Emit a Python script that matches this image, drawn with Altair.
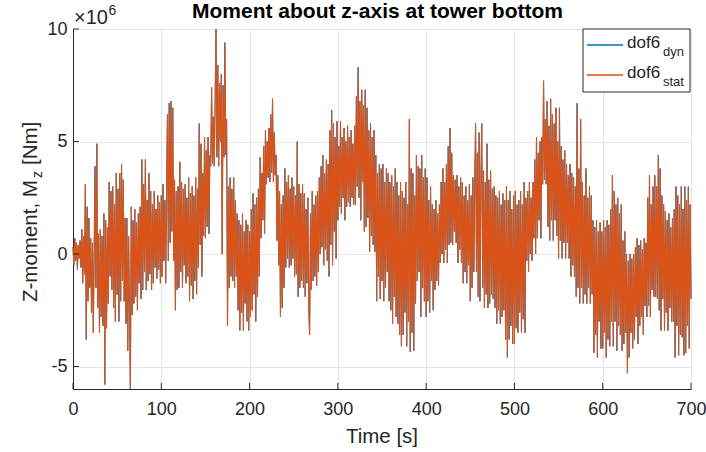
import altair as alt
import pandas as pd

# Yaw moment at the tower base, one sample per second (units of 1e6 Nm)
time_step = 1
dof6_stat = [
    0.3, -0.5, 0.7, -0.3, 0.5, -0.7, 0.4, -0.2, 0.6, -0.6,
    1.1, -1.3, 0.8, -0.9, 3.1, -3.8, 2.1, -2.1, 1.6, -1.5,
    0.7, -2.6, 0.5, -3.5, 0.2, 3.9, -1.5, 4.9, -2.4, 0.9,
    -3.5, 1.1, -2.8, 0.8, -3.2, 1.8, -5.8, 1.5, -3.3, 1.2,
    -2.2, 3.2, -1.0, 2.8, -1.6, 3.0, -2.4, 2.2, -3.0, 3.6,
    -1.8, 2.9, -3.0, 3.6, -2.1, 4.0, -1.2, 3.3, -2.1, 1.6,
    -3.1, 1.6, -4.3, 0.8, -2.6, -6.0, 2.1, -2.7, 1.5, -2.2,
    2.0, -1.9, 1.4, -2.5, 1.8, -1.3, 2.1, -2.0, 4.2, -1.6,
    3.1, -0.8, 4.2, -1.6, 2.4, -1.2, 3.6, -0.9, 2.8, -1.6,
    2.2, -1.3, 2.8, -0.6, 2.0, -1.1, 2.6, -0.7, 2.3, -1.3,
    2.6, -1.0, 3.1, -0.3, 2.4, -1.3, 3.0, 6.2, -0.3, 6.7,
    0.5, 6.8, 1.0, 6.5, -0.3, 3.3, -2.5, 2.8, -1.6, 3.0,
    -1.5, 4.1, -0.8, 3.2, -1.5, 2.9, -0.5, 3.1, -1.3, 2.5,
    -1.0, 3.4, -2.1, 2.7, -1.4, 3.0, -2.0, 2.6, -1.2, 3.4,
    -1.8, 2.9, -0.6, 5.8, 0.4, 4.9, -1.0, 3.6, 0.8, 5.2,
    0.7, 4.6, 1.2, 5.2, 0.9, 4.4, 3.9, 7.4, 4.0, 6.1,
    3.9, 6.8, 10.0, 4.3, 8.4, 3.9, 7.6, 5.0, 8.0, 0.0,
    7.5, 4.3, 9.4, 4.4, 6.0, -3.2, 3.0, -1.5, 3.4, -1.0,
    2.9, -1.2, 3.4, -1.5, 2.4, -1.0, 1.8, -2.5, 1.5, -3.4,
    1.3, -2.6, 1.8, -3.4, 1.0, -2.2, 1.5, -3.0, 1.3, -3.4,
    1.0, -2.8, 2.0, -2.5, 2.7, -1.8, 2.2, -3.0, 2.5, -1.9,
    2.9, -1.0, 4.3, 0.7, 3.6, 1.5, 4.8, 0.9, 5.5, 3.1,
    5.0, 3.4, 5.6, 3.2, 6.2, 3.6, 6.9, 3.2, 5.4, 3.5,
    4.4, 0.6, 3.5, -0.5, 2.8, -2.8, 2.2, -2.4, 2.6, -1.5,
    3.8, -0.6, 3.2, -0.2, 3.5, -0.6, 2.9, -0.5, 3.4, -0.2,
    3.0, -1.0, 2.6, -0.9, 5.0, -1.9, 3.1, -1.5, 2.7, -1.2,
    3.1, -1.5, 2.7, -1.9, 2.0, -1.3, 2.5, -2.3, -3.6, 1.8,
    -1.6, 2.8, -1.2, 2.2, -1.0, 2.6, -1.4, 2.8, -0.8, 3.4,
    0.0, 3.9, 0.3, 4.4, -0.5, 3.6, 0.2, 4.2, -0.3, 4.0,
    -1.0, 5.5, 0.4, 6.4, -0.5, 5.8, 1.0, 5.2, -0.2, 5.9,
    1.5, 4.8, 2.1, 5.9, 1.8, 5.2, 2.5, 5.6, 1.5, 5.0,
    2.1, 5.7, 2.3, 5.2, 2.1, 5.5, 2.5, 4.9, 2.2, 5.7,
    2.2, 7.0, 3.0, 8.3, 2.5, 6.8, 1.5, 7.3, 3.2, 6.6,
    1.0, 7.3, 1.2, 6.5, 1.6, 5.5, 0.1, 5.8, 0.8, 5.2,
    0.4, 5.5, 0.1, 4.4, -2.1, 3.6, -1.0, 4.0, -2.0, 3.8,
    -1.2, 4.0, -2.1, 3.2, -1.5, 3.8, -0.8, 3.6, -2.1, 3.2,
    -2.5, 3.5, -3.1, 3.0, -1.9, 3.8, -2.8, 3.2, -3.1, 2.6,
    -3.6, 3.2, -4.1, 2.8, -3.6, 2.5, -2.6, 3.2, -4.1, 2.2,
    -3.0, 6.0, -4.35, 3.8, -3.5, 3.6, -4.3, 2.6, -2.2, 4.4,
    -1.2, 3.9, -0.8, 3.8, -2.8, 4.4, -1.5, 3.4, -2.1, 3.8,
    -2.8, 3.4, -2.1, 2.4, -2.6, 3.0, -1.2, 2.2, -2.5, 2.0,
    -1.6, 2.4, -1.2, 1.8, -1.4, 2.2, -0.4, 3.2, 0.0, 3.8,
    -0.4, 3.2, 0.2, 4.0, -0.4, 4.8, 0.4, 5.6, 0.5, 4.5,
    0.4, 3.5, 1.0, 3.3, 0.5, 3.5, -0.4, 3.0, 0.2, 3.4,
    -0.4, 3.2, -1.3, 2.6, -0.8, 3.0, -1.3, 2.4, -0.5, 3.1,
    -2.1, 2.6, -1.5, 3.4, -0.8, 3.0, 5.8, -0.8, 4.5, -1.9,
    5.4, -2.1, 3.2, 5.8, -1.5, 3.7, -2.4, 3.2, -1.8, 4.9,
    -2.4, 3.3, -2.2, 3.7, -1.8, 2.9, -2.0, 3.0, -2.4, 2.6,
    -3.1, 2.5, -2.5, 2.8, -3.1, 2.2, -2.8, 2.7, -2.5, 2.4,
    -3.8, 3.0, -4.6, 2.4, -3.8, 2.8, -3.2, 2.0, -4.0, 2.6,
    -4.0, 2.8, -3.3, 2.2, -3.5, 2.4, -2.6, 2.8, -3.5, 2.2,
    -2.9, 3.2, -3.5, 2.5, -0.3, 2.8, -0.8, 3.2, 0.0, 2.5,
    -0.3, 3.2, 0.7, 4.2, 0.0, 5.2, 0.7, 4.5, 1.5, 5.0,
    0.7, 5.2, 3.1, 7.7, 3.3, 6.0, 3.1, 6.8, 1.2, 5.7,
    0.6, 6.9, 1.5, 6.2, 0.6, 5.8, 1.5, 6.5, 0.8, 5.0,
    -0.2, 6.5, 0.6, 4.8, -0.2, 4.2, 0.5, 4.6, -0.2, 4.0,
    0.5, 3.5, -0.2, 4.0, -1.0, 3.6, -0.5, 3.4, -1.0, 3.0,
    -1.9, 6.7, -1.5, 3.8, -2.2, 6.0, -1.5, 3.2, -2.2, 2.6,
    -1.8, 3.8, -2.2, 2.5, -1.5, 3.0, -2.2, 2.6, -1.8, 1.5,
    -4.4, 1.2, -3.6, 1.5, -4.6, 1.0, -3.0, 1.4, -4.2, 1.0,
    -4.2, 1.5, -3.5, 1.2, -4.6, 1.5, -3.8, 1.3, -4.1, 2.0,
    -3.0, 3.5, -4.1, 2.8, -3.0, 2.2, -4.3, 2.5, -3.2, 1.8,
    -3.6, 2.2, -4.3, 0.6, -4.0, 1.0, -3.5, 0.0, -5.3, -0.3,
    -4.6, 0.0, -3.5, -0.2, -4.2, 0.0, -3.8, 0.3, -2.8, 0.7,
    -4.0, 0.4, -3.2, 0.6, -2.8, 0.2, -3.6, 0.7, -2.3, 0.5,
    -2.8, 2.5, -2.3, 3.5, -2.8, 2.2, -1.6, 3.0, -1.9, 3.5,
    -1.9, 3.0, -2.0, 4.4, -2.5, 3.8, -3.4, 2.6, -2.0, 2.2,
    -3.4, 1.9, -2.6, 1.5, -3.4, 1.8, -2.4, 1.2, -3.0, 1.6,
    -3.0, 2.0, -4.6, 3.0, -3.2, 2.6, -4.5, 2.2, -3.6, 3.0,
    -3.7, 2.0, -4.5, 3.0, -4.4, 2.4, -3.2, 3.0, -4.2, 2.2,
    -2.0,
]
# the dynamic and quasi-static responses coincide at this resolution
dof6_dyn = list(dof6_stat)

x_ticks = [0, 100, 200, 300, 400, 500, 600, 700]
y_ticks = [-5, 0, 5, 10]

times = [i * time_step for i in range(len(dof6_stat))]
df = pd.DataFrame({"t": times, "dyn": dof6_dyn, "stat": dof6_stat})

W, H = 618, 360
FONT = "Liberation Sans"
INK = "#262626"
BLUE = "#0072BD"
ORANGE = "#D95319"

xs = alt.Scale(domain=[0, 700], nice=False, zero=False)
ys = alt.Scale(domain=[-6, 10], nice=False, zero=False)

common = dict(title=None, grid=True, gridColor="#e4e4e4", ticks=False,
              domainColor=INK, labelFontSize=18, labelColor=INK,
              labelFont=FONT, labelFlush=False,
              labelExpr="datum.value + ''")
x_axis = alt.Axis(values=x_ticks, labelPadding=11, **common)
y_axis = alt.Axis(values=y_ticks, labelPadding=6, **common)

X = alt.X("t:Q", scale=xs, axis=x_axis)

dyn_line = alt.Chart(df).mark_line(color=BLUE, strokeWidth=1.0).encode(
    x=X, y=alt.Y("dyn:Q", scale=ys, axis=y_axis))
stat_line = alt.Chart(df).mark_line(color=ORANGE, strokeWidth=1.1).encode(
    x=X, y=alt.Y("stat:Q", scale=ys, axis=y_axis))

# inward tick marks
xt = alt.Chart(pd.DataFrame({"v": x_ticks})).mark_rule(color=INK).encode(
    x=alt.X("v:Q", scale=xs, axis=x_axis), y=alt.value(H), y2=alt.value(H - 6))
yt = alt.Chart(pd.DataFrame({"v": y_ticks})).mark_rule(color=INK).encode(
    y=alt.Y("v:Q", scale=ys, axis=y_axis), x=alt.value(0), x2=alt.value(6))

one = pd.DataFrame({"a": [0]})


def label(text, x, y, size, angle=0, align="left", bold=False):
    return alt.Chart(one).mark_text(
        text=text, font=FONT, fontSize=size, color="#000000" if bold else INK,
        fontWeight="bold" if bold else "normal", align=align,
        baseline="alphabetic", angle=angle,
    ).encode(x=alt.value(x), y=alt.value(y))


texts = [
    label("Moment about z-axis at tower bottom", 304.5, -11, 21, align="center", bold=True),
    label("\u00d710", 1, -5, 20),
    label("6", 35.5, -14, 14),
    label("Time [s]", 309, 414, 20.5, align="center"),
    label("Z-moment, M", -36, 273, 20.5, angle=270),
    label("z", -31, 149, 14, angle=270),
    label("[Nm]", -36, 136, 20.5, angle=270),
]

# legend box
box = alt.Chart(one).mark_rect(fill="white", stroke=INK, strokeWidth=1).encode(
    x=alt.value(510), x2=alt.value(617), y=alt.value(0), y2=alt.value(63))
leg_dyn = alt.Chart(one).mark_rule(color=BLUE, strokeWidth=1.5).encode(
    x=alt.value(514), x2=alt.value(550), y=alt.value(16))
leg_stat = alt.Chart(one).mark_rule(color=ORANGE, strokeWidth=1.5).encode(
    x=alt.value(514), x2=alt.value(550), y=alt.value(46))
leg_texts = [
    label("dof6", 554, 19, 17),
    label("dyn", 590, 27, 13),
    label("dof6", 554, 49, 17),
    label("stat", 590, 57, 13),
]

chart = alt.layer(
    dyn_line, stat_line, xt, yt, box, leg_dyn, leg_stat, *leg_texts, *texts
).properties(
    width=W, height=H,
    autosize=alt.AutoSizeParams(type="none"),
    padding={"left": 73, "top": 29, "right": 15, "bottom": 63},
    background="white",
).configure_view(stroke=None)

chart.save("out.html", embed_options={"renderer": "svg", "actions": False})
